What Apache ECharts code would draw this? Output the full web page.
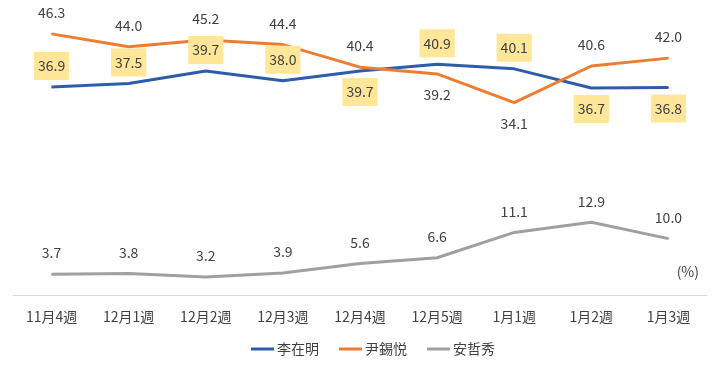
<!DOCTYPE html>
<html><head><meta charset="utf-8">
<script src="https://cdn.jsdelivr.net/npm/echarts@6/dist/echarts.min.js"></script>
<style>html,body{margin:0;padding:0;background:#fff}#c{width:720px;height:373px}</style>
</head><body><div id="c"></div>
<script>
const categories = ['11月4週','12月1週','12月2週','12月3週','12月4週','12月5週','1月1週','1月2週','1月3週'];
const seriesNames = ['李在明','尹錫悦','安哲秀'];
const leeValues = [36.9, 37.5, 39.7, 38.0, 39.7, 40.9, 40.1, 36.7, 36.8];
const yoonValues = [46.3, 44.0, 45.2, 44.4, 40.4, 39.2, 34.1, 40.6, 42.0];
const ahnValues = [3.7, 3.8, 3.2, 3.9, 5.6, 6.6, 11.1, 12.9, 10.0];
const unitLabel = '(%)';

const FONT = '"Noto Sans CJK JP", "Noto Sans", sans-serif';
const TXT = '#404040';
const OFF = 21;
// label side per point: 1 = above, -1 = below
const leeSide = [1,1,1,1,-1,1,1,-1,-1];
const yoonSide = [1,1,1,1,1,-1,-1,1,1];

function mk(vals, side) {
  return vals.map((v, i) => ({ value: v, label: { offset: [0, side ? -OFF * side[i] : -OFF] } }));
}
function baseLabel(extra) {
  return Object.assign({ show: true, position: 'inside', color: TXT, fontSize: 14, fontFamily: FONT,
    formatter: p => p.value.toFixed(1) }, extra || {});
}

const chart = echarts.init(document.getElementById('c'));
chart.setOption({
  animation: false,
  backgroundColor: '#fff',
  grid: { left: 13, right: 13, top: 13, bottom: 78 },
  xAxis: {
    type: 'category', data: categories, boundaryGap: true,
    axisLine: { lineStyle: { color: '#D9D9D9', width: 1 } },
    axisTick: { show: false },
    axisLabel: { color: TXT, fontSize: 14, fontFamily: FONT, margin: 15 }
  },
  yAxis: { type: 'value', min: 0, max: 50, show: false, splitLine: { show: false } },
  legend: {
    bottom: 12, left: 246, icon: 'rect', itemWidth: 23, itemHeight: 3, itemGap: 20,
    textStyle: { color: TXT, fontSize: 14, fontFamily: FONT, padding: [0, 0, 0, -2] },
    data: seriesNames
  },
  graphic: [{ type: 'text', right: 21, top: 265,
    style: { text: unitLabel, fill: TXT, font: '14px ' + FONT } }],
  series: [
    { name: seriesNames[0], type: 'line', data: mk(leeValues, leeSide), symbol: 'circle', symbolSize: 1,
      color: '#2E5CAA', lineStyle: { width: 3, color: '#2E5CAA' },
      label: baseLabel({ backgroundColor: '#FFE699', padding: [7, 4] }) },
    { name: seriesNames[1], type: 'line', data: mk(yoonValues, yoonSide), symbol: 'circle', symbolSize: 1,
      color: '#ED7D31', lineStyle: { width: 3, color: '#ED7D31' },
      label: baseLabel() },
    { name: seriesNames[2], type: 'line', data: mk(ahnValues, null), symbol: 'circle', symbolSize: 1,
      color: '#A0A0A0', lineStyle: { width: 3, color: '#A0A0A0' },
      label: baseLabel() }
  ]
});
</script></body></html>
